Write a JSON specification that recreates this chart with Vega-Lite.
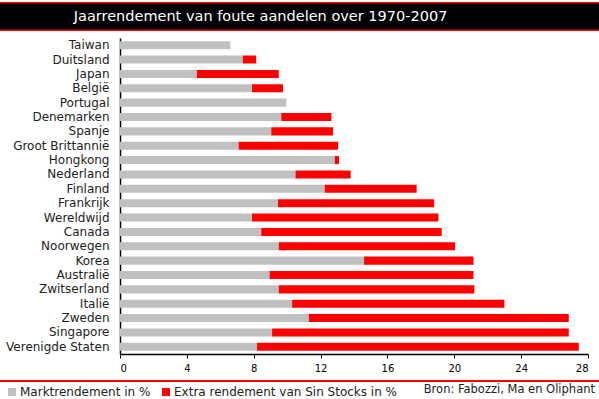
{
  "$schema": "https://vega.github.io/schema/vega-lite/v6.json",
  "padding": {"top": 2, "left": 0, "right": 0, "bottom": 0},
  "background": "white",
  "spacing": 7,
  "columns": 1,
  "align": "none",
  "bounds": "full",
  "config": {
    "view": {"stroke": null},
    "font": "DejaVu Sans",
    "axis": {"labelFont": "DejaVu Sans", "titleFont": "DejaVu Sans"},
    "legend": {"labelFont": "DejaVu Sans"}
  },
  "concat": [
    {
      "width": 479,
      "height": 29,
      "data": {"values": [{}]},
      "layer": [
        {
          "mark": {"type": "rect", "color": "#FF0000"},
          "encoding": {
            "x": {"datum": 0, "type": "quantitative", "scale": {"domain": [0, 1], "range": [-120, 479], "nice": false}, "axis": null},
            "x2": {"datum": 1},
            "y": {"datum": 0, "type": "quantitative", "scale": {"domain": [0, 1], "nice": false}, "axis": null},
            "y2": {"datum": 1}
          }
        },
        {
          "mark": {"type": "rect", "color": "#000000"},
          "encoding": {
            "x": {"datum": 0, "type": "quantitative"},
            "x2": {"datum": 1},
            "y": {"datum": 0.05, "type": "quantitative"},
            "y2": {"datum": 0.95}
          }
        },
        {
          "mark": {"type": "text", "color": "#FFFFFF", "font": "DejaVu Sans", "fontSize": 14.5},
          "encoding": {
            "x": {"datum": 0.435, "type": "quantitative"},
            "y": {"datum": 0.5, "type": "quantitative"},
            "text": {"value": "Jaarrendement van foute aandelen over 1970-2007"}
          }
        }
      ]
    },
    {
      "width": 468,
      "height": 316,
      "data": {
        "values": [
          {"land": "Taiwan", "serie": "Marktrendement in %", "waarde": 6.6},
          {"land": "Taiwan", "serie": "Extra rendement van Sin Stocks in %", "waarde": 0},
          {"land": "Duitsland", "serie": "Marktrendement in %", "waarde": 7.35},
          {"land": "Duitsland", "serie": "Extra rendement van Sin Stocks in %", "waarde": 0.8},
          {"land": "Japan", "serie": "Marktrendement in %", "waarde": 4.6},
          {"land": "Japan", "serie": "Extra rendement van Sin Stocks in %", "waarde": 4.9},
          {"land": "België", "serie": "Marktrendement in %", "waarde": 7.9},
          {"land": "België", "serie": "Extra rendement van Sin Stocks in %", "waarde": 1.85},
          {"land": "Portugal", "serie": "Marktrendement in %", "waarde": 9.95},
          {"land": "Portugal", "serie": "Extra rendement van Sin Stocks in %", "waarde": 0},
          {"land": "Denemarken", "serie": "Marktrendement in %", "waarde": 9.65},
          {"land": "Denemarken", "serie": "Extra rendement van Sin Stocks in %", "waarde": 3.0},
          {"land": "Spanje", "serie": "Marktrendement in %", "waarde": 9.05},
          {"land": "Spanje", "serie": "Extra rendement van Sin Stocks in %", "waarde": 3.7},
          {"land": "Groot Brittannië", "serie": "Marktrendement in %", "waarde": 7.1},
          {"land": "Groot Brittannië", "serie": "Extra rendement van Sin Stocks in %", "waarde": 5.95},
          {"land": "Hongkong", "serie": "Marktrendement in %", "waarde": 12.85},
          {"land": "Hongkong", "serie": "Extra rendement van Sin Stocks in %", "waarde": 0.25},
          {"land": "Nederland", "serie": "Marktrendement in %", "waarde": 10.5},
          {"land": "Nederland", "serie": "Extra rendement van Sin Stocks in %", "waarde": 3.3},
          {"land": "Finland", "serie": "Marktrendement in %", "waarde": 12.25},
          {"land": "Finland", "serie": "Extra rendement van Sin Stocks in %", "waarde": 5.5},
          {"land": "Frankrijk", "serie": "Marktrendement in %", "waarde": 9.45},
          {"land": "Frankrijk", "serie": "Extra rendement van Sin Stocks in %", "waarde": 9.35},
          {"land": "Wereldwijd", "serie": "Marktrendement in %", "waarde": 7.9},
          {"land": "Wereldwijd", "serie": "Extra rendement van Sin Stocks in %", "waarde": 11.15},
          {"land": "Canada", "serie": "Marktrendement in %", "waarde": 8.45},
          {"land": "Canada", "serie": "Extra rendement van Sin Stocks in %", "waarde": 10.8},
          {"land": "Noorwegen", "serie": "Marktrendement in %", "waarde": 9.5},
          {"land": "Noorwegen", "serie": "Extra rendement van Sin Stocks in %", "waarde": 10.55},
          {"land": "Korea", "serie": "Marktrendement in %", "waarde": 14.6},
          {"land": "Korea", "serie": "Extra rendement van Sin Stocks in %", "waarde": 6.55},
          {"land": "Australië", "serie": "Marktrendement in %", "waarde": 8.95},
          {"land": "Australië", "serie": "Extra rendement van Sin Stocks in %", "waarde": 12.2},
          {"land": "Zwitserland", "serie": "Marktrendement in %", "waarde": 9.5},
          {"land": "Zwitserland", "serie": "Extra rendement van Sin Stocks in %", "waarde": 11.7},
          {"land": "Italië", "serie": "Marktrendement in %", "waarde": 10.3},
          {"land": "Italië", "serie": "Extra rendement van Sin Stocks in %", "waarde": 12.7},
          {"land": "Zweden", "serie": "Marktrendement in %", "waarde": 11.3},
          {"land": "Zweden", "serie": "Extra rendement van Sin Stocks in %", "waarde": 15.55},
          {"land": "Singapore", "serie": "Marktrendement in %", "waarde": 9.1},
          {"land": "Singapore", "serie": "Extra rendement van Sin Stocks in %", "waarde": 17.75},
          {"land": "Verenigde Staten", "serie": "Marktrendement in %", "waarde": 8.2},
          {"land": "Verenigde Staten", "serie": "Extra rendement van Sin Stocks in %", "waarde": 19.25}
        ]
      },
      "mark": {"type": "bar"},
      "encoding": {
        "y": {
          "field": "land", "type": "nominal", "sort": null,
          "scale": {"paddingInner": 0.44, "paddingOuter": 0.22},
          "axis": {"title": null, "ticks": false, "domainColor": "#000000", "domainWidth": 1.5, "labelFontSize": 12, "labelColor": "#222222", "labelPadding": 11, "minExtent": 120, "maxExtent": 120}
        },
        "x": {
          "field": "waarde", "type": "quantitative", "stack": "zero",
          "scale": {"domain": [0, 28], "nice": false},
          "axis": {"title": null, "values": [0, 4, 8, 12, 16, 20, 24, 28], "grid": false, "tickColor": "#000000", "tickSize": 4, "domainColor": "#000000", "domainWidth": 1.5, "labelFontSize": 10, "labelColor": "#000000", "labelPadding": 5}
        },
        "color": {
          "field": "serie", "type": "nominal",
          "scale": {"domain": ["Marktrendement in %", "Extra rendement van Sin Stocks in %"], "range": ["#C0C0C0", "#FF0000"]},
          "legend": {"title": null, "orient": "none", "direction": "horizontal", "legendX": -117, "legendY": 384, "symbolType": "square", "symbolSize": 64, "symbolStrokeWidth": 0, "symbolOffset": 3, "labelFontSize": 12, "labelColor": "#222222", "labelLimit": 400, "columnPadding": 6, "labelOffset": 2, "padding": 0}
        },
        "order": {"field": "serie", "sort": "descending"}
      }
    },
    {
      "width": 479,
      "height": 18,
      "data": {"values": [{}]},
      "layer": [
        {
          "mark": {"type": "rect", "color": "#FF0000"},
          "encoding": {
            "x": {"datum": 0, "type": "quantitative", "scale": {"domain": [0, 1], "range": [-120, 479], "nice": false}, "axis": null},
            "x2": {"datum": 1},
            "y": {"datum": 0.89, "type": "quantitative", "scale": {"domain": [0, 1], "nice": false}, "axis": null},
            "y2": {"datum": 1}
          }
        },
        {
          "mark": {"type": "text", "color": "#222222", "font": "DejaVu Sans", "fontSize": 11.5, "align": "right", "dx": -4},
          "encoding": {
            "x": {"datum": 1, "type": "quantitative"},
            "y": {"datum": 0.45, "type": "quantitative"},
            "text": {"value": "Bron: Fabozzi, Ma en Oliphant"}
          }
        }
      ]
    }
  ]
}
